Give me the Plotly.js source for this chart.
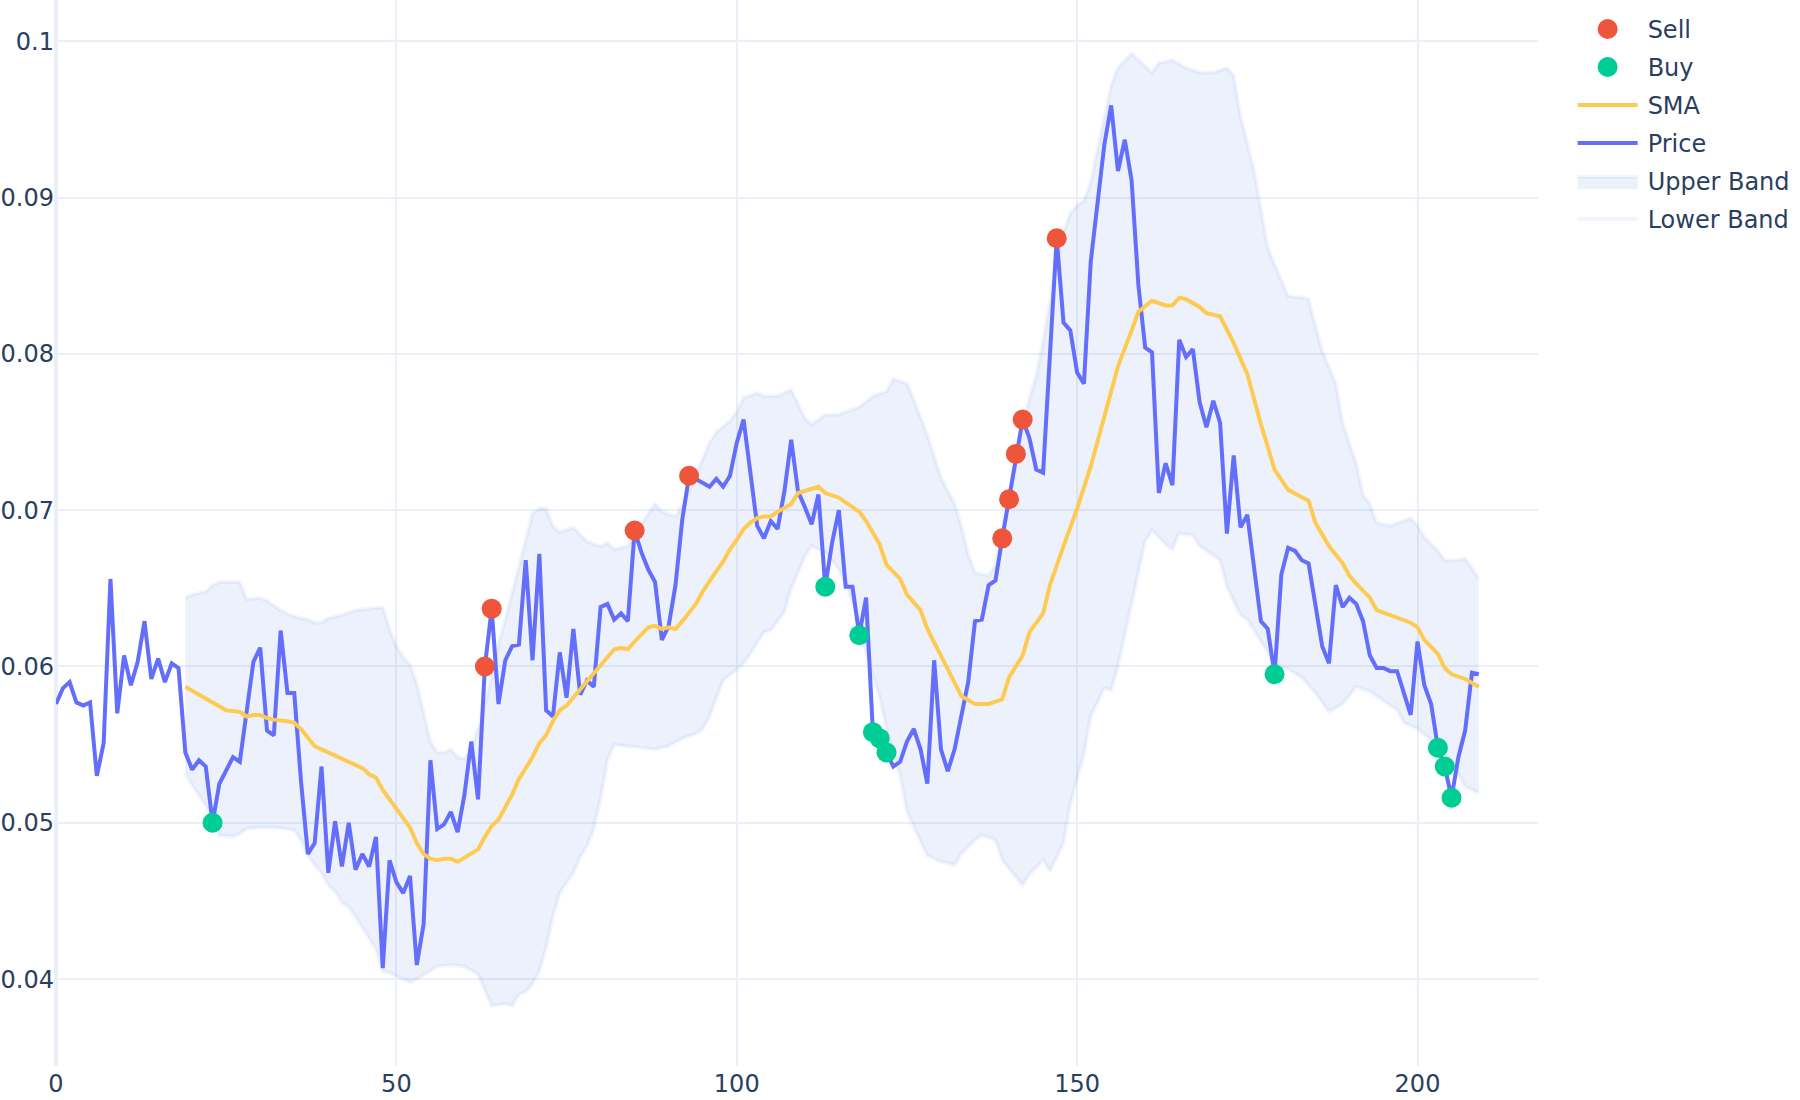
<!DOCTYPE html>
<html><head><meta charset="utf-8">
<script src="https://cdn.plot.ly/plotly-3.0.1.min.js"></script>
<style>
html,body{margin:0;padding:0;background:#fff;overflow:hidden;width:1800px;height:1100px}
#wrap{width:900px;height:550px;transform:scale(2);transform-origin:0 0}
</style>
</head><body><div id="wrap"><div id="chart" style="width:900px;height:550px"></div></div>
<script>
// Price series, one value per index 0..209
const price = [
0.0576,0.0586,0.0590,0.0577,0.0575,0.0577,0.0530,0.0551,0.0656,0.0570,
0.0607,0.0588,0.0603,0.0629,0.0592,0.0605,0.0590,0.0602,0.0599,0.0545,
0.0534,0.0540,0.0536,0.0500,0.0525,0.0533,0.0542,0.0539,0.0568,0.0603,
0.0612,0.0559,0.0556,0.0623,0.0583,0.0583,0.0526,0.0480,0.0487,0.0536,
0.0468,0.0501,0.0472,0.0500,0.0470,0.0480,0.0472,0.0491,0.0407,0.0476,
0.0462,0.0455,0.0466,0.0409,0.0435,0.0540,0.0496,0.0499,0.0507,0.0494,
0.0518,0.0552,0.0515,0.0600,0.0637,0.0576,0.0604,0.0613,0.0614,0.0668,
0.0604,0.0672,0.0572,0.0568,0.0609,0.0580,0.0624,0.0582,0.0591,0.0587,
0.0638,0.0640,0.0630,0.0634,0.0629,0.0687,0.0673,0.0662,0.0654,0.0617,
0.0626,0.0652,0.0694,0.0722,0.0720,0.0717,0.0715,0.0720,0.0715,0.0722,
0.0743,0.0758,0.0726,0.0690,0.0682,0.0693,0.0688,0.0712,0.0745,0.0712,
0.0702,0.0691,0.0710,0.0651,0.0679,0.0700,0.0651,0.0651,0.0620,0.0644,
0.0558,0.0554,0.0545,0.0536,0.0539,0.0552,0.0560,0.0547,0.0525,0.0604,
0.0547,0.0533,0.0547,0.0568,0.0590,0.0629,0.0630,0.0652,0.0655,0.0682,
0.0707,0.0736,0.0758,0.0746,0.0726,0.0724,0.0800,0.0874,0.0820,0.0815,
0.0788,0.0781,0.0859,0.0898,0.0934,0.0959,0.0917,0.0937,0.0911,0.0844,
0.0804,0.0801,0.0711,0.0730,0.0716,0.0809,0.0798,0.0803,0.0769,0.0753,
0.0770,0.0756,0.0685,0.0735,0.0689,0.0697,0.0662,0.0629,0.0624,0.0595,
0.0659,0.0676,0.0674,0.0668,0.0666,0.0642,0.0613,0.0602,0.0652,0.0638,
0.0644,0.0640,0.0629,0.0607,0.0599,0.0599,0.0597,0.0597,0.0583,0.0569,
0.0616,0.0588,0.0576,0.0548,0.0536,0.0516,0.0542,0.0559,0.0596,0.0595
];
const priceX = price.map((_, i) => i);

// SMA readings
const smaX = [19,21,23,24,25,27,28,29,30,31,32,34,35,36,37,38,39,40,41,42,43,44,45,46,47,48,49,50,51,52,53,54,55,56,57,58,59,60,61,62,63,64,65,66,67,68,69,70,71,72,73,74,75,76,77,78,79,80,81,82,83,84,85,86,87,88,89,90,91,92,93,94,95,96,97,98,99,100,101,102,103,104,105,106,108,109,111,112,113,115,116,118,119,121,122,124,125,127,128,129,130,131,132,133,135,137,139,140,142,143,145,146,148,150,152,154,155,156,158,159,161,163,164,165,166,168,169,171,173,175,177,179,181,183,184,185,187,189,190,191,193,194,196,197,199,200,201,203,204,205,207,209];
const smaY = [0.0587,0.0582,0.0577,0.0574,0.0572,0.0571,0.0568,0.0569,0.0569,0.0567,0.0566,0.0565,0.0564,0.0560,0.0554,0.0549,0.0547,0.0545,0.0542,0.0540,0.0539,0.0537,0.0535,0.0531,0.0529,0.0521,0.0515,0.0509,0.0503,0.0497,0.0487,0.0480,0.0477,0.0476,0.0477,0.0477,0.0475,0.0478,0.0480,0.0483,0.0491,0.0498,0.0502,0.0510,0.0518,0.0528,0.0535,0.0542,0.0551,0.0556,0.0565,0.0572,0.0575,0.0580,0.0585,0.0590,0.0595,0.0600,0.0606,0.0611,0.0612,0.0611,0.0616,0.0621,0.0625,0.0626,0.0624,0.0625,0.0624,0.0629,0.0634,0.0640,0.0648,0.0655,0.0661,0.0667,0.0675,0.0681,0.0688,0.0692,0.0695,0.0696,0.0696,0.0699,0.0704,0.0711,0.0714,0.0715,0.0711,0.0708,0.0705,0.0699,0.0693,0.0678,0.0665,0.0656,0.0646,0.0636,0.0624,0.0615,0.0606,0.0597,0.0588,0.0581,0.0576,0.0576,0.0579,0.0593,0.0607,0.0622,0.0634,0.0652,0.0677,0.0701,0.0728,0.0760,0.0778,0.0792,0.0815,0.0827,0.0834,0.0831,0.0831,0.0836,0.0835,0.0830,0.0826,0.0824,0.0807,0.0787,0.0755,0.0726,0.0713,0.0708,0.0706,0.0692,0.0677,0.0666,0.0658,0.0653,0.0644,0.0636,0.0633,0.0631,0.0628,0.0625,0.0617,0.0608,0.0599,0.0595,0.0592,0.0587];

// Upper band readings
const upperX = [19,20,22,23,24,27,28,30,31,32,33,35,37,38,39,40,42,44,46,47,48,49,50,51,52,53,54,55,56,57,58,59,60,61,62,63,64,65,66,67,68,69,70,71,72,73,74,76,78,80,81,82,84,85,87,88,89,91,92,94,96,97,99,100,101,103,104,106,108,110,111,113,115,116,118,120,122,123,125,126,128,130,131,132,133,134,135,137,138,139,141,142,143,144,145,147,148,149,150,151,152,153,154,155,156,158,159,161,162,164,166,168,170,172,173,174,176,178,180,181,183,184,185,186,188,189,191,192,193,194,196,197,199,200,201,203,204,206,207,208,209];
const upperY = [0.0644,0.0646,0.0648,0.0652,0.0654,0.0654,0.0643,0.0644,0.0642,0.0639,0.0636,0.0632,0.0630,0.0628,0.0628,0.0631,0.0633,0.0636,0.0637,0.0638,0.0638,0.0624,0.0613,0.0606,0.0601,0.0589,0.0570,0.0552,0.0545,0.0545,0.0547,0.0542,0.0541,0.0548,0.0560,0.0575,0.0595,0.0615,0.0630,0.0648,0.0662,0.0680,0.0698,0.0701,0.0701,0.0690,0.0686,0.0689,0.0680,0.0677,0.0679,0.0675,0.0677,0.0685,0.0698,0.0704,0.0699,0.0696,0.0703,0.0722,0.0743,0.0750,0.0757,0.0763,0.0772,0.0775,0.0773,0.0773,0.0777,0.0759,0.0755,0.0761,0.0761,0.0763,0.0766,0.0773,0.0776,0.0784,0.0781,0.0771,0.0748,0.0721,0.0712,0.0704,0.0690,0.0672,0.0660,0.0658,0.0665,0.0688,0.0735,0.0755,0.0772,0.0786,0.0808,0.0860,0.0878,0.0890,0.0895,0.0898,0.0910,0.0932,0.0955,0.0972,0.0983,0.0992,0.0988,0.0980,0.0986,0.0988,0.0983,0.0980,0.0980,0.0983,0.0978,0.0952,0.0917,0.0868,0.0847,0.0837,0.0836,0.0835,0.0818,0.0802,0.0781,0.0756,0.0730,0.0710,0.0704,0.0692,0.0690,0.0692,0.0695,0.0690,0.0683,0.0674,0.0668,0.0668,0.0669,0.0663,0.0656];

// Lower band readings
const lowerX = [19,20,22,23,24,26,27,28,30,32,34,35,36,37,38,39,40,41,42,43,44,45,46,47,48,49,50,51,52,53,54,56,58,60,62,63,64,66,67,68,69,70,71,72,73,74,75,76,77,78,79,80,81,82,84,86,88,90,92,94,95,96,97,98,100,101,102,103,104,105,107,108,110,111,113,115,116,118,119,121,122,124,125,127,128,130,131,132,133,135,136,138,139,141,142,143,145,146,148,149,151,152,154,155,156,157,158,159,160,161,163,164,165,167,168,170,171,172,174,175,177,179,181,183,185,187,189,191,193,195,197,198,200,202,203,205,207,209];
const lowerY = [0.0532,0.0524,0.0511,0.0500,0.0492,0.0491,0.0493,0.0496,0.0497,0.0497,0.0496,0.0495,0.0489,0.0479,0.0473,0.0468,0.0460,0.0456,0.0449,0.0446,0.0440,0.0432,0.0426,0.0419,0.0405,0.0404,0.0402,0.0399,0.0398,0.0400,0.0403,0.0408,0.0409,0.0408,0.0403,0.0392,0.0383,0.0384,0.0383,0.0390,0.0392,0.0397,0.0405,0.0420,0.0440,0.0455,0.0462,0.0468,0.0478,0.0485,0.0496,0.0515,0.0540,0.0550,0.0549,0.0548,0.0547,0.0549,0.0554,0.0557,0.0560,0.0568,0.0580,0.0591,0.0598,0.0602,0.0608,0.0615,0.0622,0.0623,0.0635,0.0650,0.0670,0.0677,0.0673,0.0662,0.0653,0.0629,0.0609,0.0580,0.0560,0.0530,0.0507,0.0488,0.0479,0.0475,0.0474,0.0473,0.0480,0.0489,0.0492,0.0489,0.0476,0.0466,0.0460,0.0467,0.0476,0.0469,0.0487,0.0512,0.0544,0.0568,0.0586,0.0585,0.0600,0.0620,0.0640,0.0662,0.0680,0.0687,0.0678,0.0675,0.0685,0.0684,0.0677,0.0671,0.0668,0.0651,0.0633,0.0630,0.0616,0.0602,0.0598,0.0593,0.0583,0.0571,0.0576,0.0587,0.0584,0.0578,0.0572,0.0564,0.0560,0.0553,0.0550,0.0539,0.0523,0.0519];

// Signals
const sellX = [63,64,85,93,139,140,141,142,147];
const sellY = [0.0600,0.0637,0.0687,0.0722,0.0682,0.0707,0.0736,0.0758,0.0874];
const buyX = [23,113,118,120,121,122,179,203,204,205];
const buyY = [0.0500,0.0651,0.0620,0.0558,0.0554,0.0545,0.0595,0.0548,0.0536,0.0516];

const bandLine = 'rgba(68,119,230,0.07)';
const bandFill = 'rgba(68,119,230,0.1)';

const traces = [
  {x: lowerX, y: lowerY, name: 'Lower Band', type: 'scatter', mode: 'lines',
   line: {color: bandLine, width: 2}},
  {x: upperX, y: upperY, name: 'Upper Band', type: 'scatter', mode: 'lines',
   fill: 'tonexty', fillcolor: bandFill, line: {color: bandLine, width: 2}},
  {x: priceX, y: price, name: 'Price', type: 'scatter', mode: 'lines',
   line: {color: '#636EFA', width: 2}},
  {x: smaX, y: smaY, name: 'SMA', type: 'scatter', mode: 'lines',
   line: {color: '#FECB52', width: 2}},
  {x: buyX, y: buyY, name: 'Buy', type: 'scatter', mode: 'markers',
   marker: {color: '#00CC96', size: 10}},
  {x: sellX, y: sellY, name: 'Sell', type: 'scatter', mode: 'markers',
   marker: {color: '#EF553B', size: 10}}
];

const layout = {
  width: 900, height: 550,
  margin: {l: 28, r: 131, t: 0, b: 17, pad: 0},
  paper_bgcolor: '#fff', plot_bgcolor: '#fff',
  font: {family: '"DejaVu Sans", Verdana, sans-serif', size: 12, color: '#2a3f5f'},
  showlegend: true,
  legend: {traceorder: 'reversed', font: {size: 12}},
  xaxis: {range: [0, 217.7], dtick: 50, tick0: 0, gridcolor: '#EBF0F8', gridwidth: 1,
          zeroline: true, zerolinecolor: '#EBF0F8', zerolinewidth: 2, showline: false, ticks: ''},
  yaxis: {range: [0.03444, 0.10264], dtick: 0.01, tick0: 0, gridcolor: '#EBF0F8', gridwidth: 1,
          zeroline: true, zerolinecolor: '#EBF0F8', zerolinewidth: 2, showline: false, ticks: ''}
};

Plotly.newPlot('chart', traces, layout, {displayModeBar: false, staticPlot: true});
</script>
</body></html>
